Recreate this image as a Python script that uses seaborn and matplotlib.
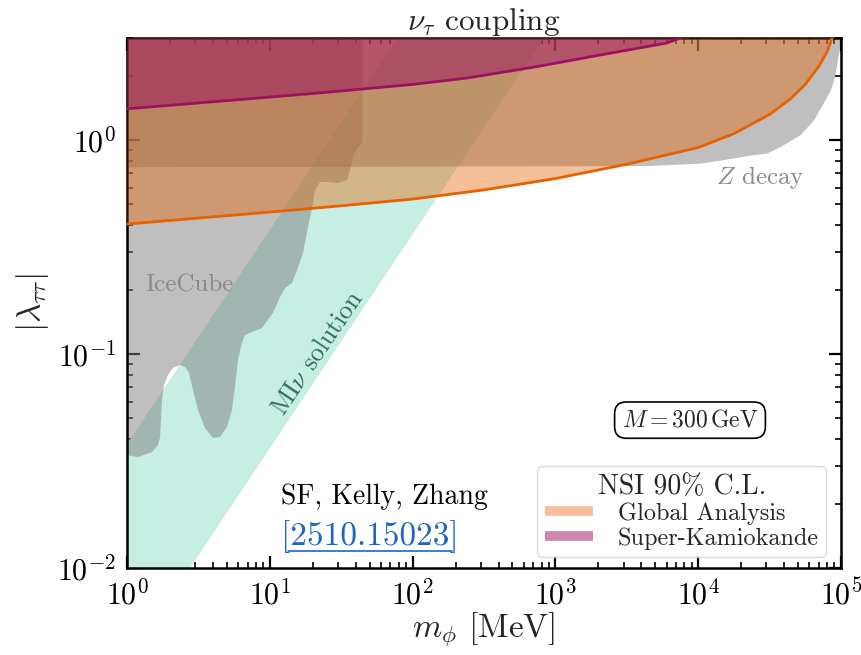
import matplotlib
matplotlib.use("Agg")
import matplotlib.pyplot as plt
import seaborn as sns
from matplotlib.lines import Line2D
from matplotlib.ticker import LogLocator, NullFormatter

# --- bounds on the tau-flavour coupling vs mediator mass ---------------------
# NSI global analysis (90% C.L.), lower edge of excluded region
m_global = [1, 3.16, 10, 31.6, 100, 316, 1000, 3162, 10000, 17800, 31600,
            44700, 56200, 70800, 79400, 87100]
lam_global = [0.405, 0.432, 0.461, 0.493, 0.530, 0.585, 0.661, 0.771, 0.923,
              1.072, 1.318, 1.567, 1.82, 2.239, 2.57, 3.02]

# NSI Super-Kamiokande (90% C.L.)
m_superk = [1, 4.5, 22, 100, 240, 700, 2000, 6000, 7500, 8500]
lam_superk = [1.40, 1.52, 1.66, 1.82, 1.95, 2.19, 2.49, 2.84, 3.0, 3.2]

# Z decay exclusion, lower edge
m_zdecay = [1, 4400, 10300, 17500, 23000, 30300, 39000, 51600, 64000, 75000,
            84000, 90000, 95000, 99000, 100000]
lam_zdecay = [0.75, 0.76, 0.78, 0.824, 0.85, 0.87, 0.947, 1.06, 1.24, 1.49,
              1.71, 1.97, 2.44, 2.84, 3.0]

# IceCube exclusion contour (excluded above / left of it)
m_icecube = [1.0, 1.194, 1.496, 1.648, 1.702, 1.730, 1.758, 1.815, 1.936, 2.10,
             2.35, 2.55, 2.72, 2.90, 3.14, 3.52, 4.00, 4.48, 5.01, 5.43, 5.70,
             5.99, 6.38, 6.70, 7.50, 8.82, 10.5, 11.8, 12.8, 14.3, 15.5, 17.1,
             18.5, 19.8, 20.7, 22.5, 26.4, 30.1, 34.8, 36.5, 38.3, 41.5, 44.2,
             44.7]
lam_icecube = [0.0337, 0.0330, 0.0348, 0.0376, 0.0405, 0.0492, 0.0610, 0.0716,
               0.0798, 0.0861, 0.0889, 0.0870, 0.0815, 0.0679, 0.0548, 0.0451,
               0.0405, 0.0409, 0.0456, 0.0547, 0.0701, 0.0938, 0.1125, 0.1227,
               0.1267, 0.1322, 0.1555, 0.1845, 0.2035, 0.2147, 0.247, 0.2965,
               0.392, 0.486, 0.584, 0.637, 0.637, 0.630, 0.650, 0.724, 0.833,
               0.927, 0.968, 0.975]

# MI-nu solution band
m_minu = [1, 1e5]
lam_minu_low = [0.00362, 362.0]
lam_minu_high = [0.038, 3800.0]

LAM_TOP = 3.0
M_RANGE = (1, 1e5)
LAM_RANGE = (1e-2, LAM_TOP)

# --- style --------------------------------------------------------------------
sns.set_theme(style="ticks")
plt.rcParams.update({
    "font.family": "serif",
    "font.serif": ["cmr10", "DejaVu Serif"],
    "mathtext.fontset": "cm",
    "axes.formatter.use_mathtext": True,
    "axes.unicode_minus": False,
    "axes.linewidth": 1.8,
    "axes.edgecolor": "black",
})

C_ORANGE = "#e66100"
C_PURPLE = "#9c1060"
C_GREEN = "#c6eee3"
C_GRAY = (0.5, 0.5, 0.5)

fig = plt.figure(figsize=(8.61, 6.55), dpi=100)
ax = fig.add_axes([0.1475, 0.1328, 0.8293, 0.8092])
ax.set_xscale("log")
ax.set_yscale("log")

# MI-nu band
ax.fill_between(m_minu, lam_minu_low, lam_minu_high, color=C_GREEN,
                lw=0, zorder=1)
# IceCube region
ax.fill(m_icecube + [m_icecube[-1], m_icecube[0]],
        lam_icecube + [LAM_TOP, LAM_TOP],
        color=C_GRAY, alpha=0.5, lw=0, zorder=2)
# Z decay region
ax.fill_between(m_zdecay, lam_zdecay, LAM_TOP, color=C_GRAY, alpha=0.5,
                lw=0, zorder=2)
# NSI bounds
ax.fill_between(m_global, lam_global, LAM_TOP, color=C_ORANGE, alpha=0.4,
                lw=0, zorder=3)
ax.fill_between(m_superk, lam_superk, LAM_TOP, color=C_PURPLE, alpha=0.5,
                lw=0, zorder=4)
sns.lineplot(x=m_global, y=lam_global, ax=ax, color=C_ORANGE, lw=2,
             sort=False, estimator=None, zorder=5)
sns.lineplot(x=m_superk, y=lam_superk, ax=ax, color=C_PURPLE, lw=2,
             sort=False, estimator=None, zorder=5)

ax.set_xlim(*M_RANGE)
ax.set_ylim(*LAM_RANGE)

# ticks
ax.xaxis.set_major_locator(LogLocator(base=10, numticks=10))
ax.xaxis.set_minor_locator(LogLocator(base=10, subs=range(2, 10), numticks=100))
ax.yaxis.set_major_locator(LogLocator(base=10, numticks=10))
ax.yaxis.set_minor_locator(LogLocator(base=10, subs=range(2, 10), numticks=100))
ax.xaxis.set_minor_formatter(NullFormatter())
ax.yaxis.set_minor_formatter(NullFormatter())
ax.tick_params(which="both", direction="in", top=True, right=True,
               colors="black", labelsize=21.5)
ax.tick_params(which="major", length=9, width=1.6, pad=8)
ax.tick_params(which="minor", length=4.5, width=1.2)

ax.set_xlabel(r"$m_\phi$ [MeV]", fontsize=24, labelpad=0)
ax.set_ylabel(r"$|\lambda_{\tau\tau}|$", fontsize=24, labelpad=4)
ax.set_title(r"$\nu_\tau$ coupling", fontsize=22.5, pad=4)

# annotations
ax.text(0.088, 0.534, "IceCube", transform=ax.transAxes, fontsize=18,
        color="#8a8a8a", ha="center", va="center", zorder=6)
ax.text(0.8866, 0.736, r"$Z$ decay", transform=ax.transAxes, fontsize=18,
        color="#8a8a8a", ha="center", va="center", zorder=6)
ax.text(0.2675, 0.405, r"MI$\nu$ solution", transform=ax.transAxes,
        fontsize=18.5, color="#2f6b5c", ha="center", va="center",
        rotation=56, rotation_mode="anchor", zorder=6)
ax.text(0.361, 0.134, "SF, Kelly, Zhang", transform=ax.transAxes,
        fontsize=20, color="black", ha="center", va="center", zorder=6)
ref = ax.text(0.340, 0.0585, "[2510.15023]", transform=ax.transAxes,
              fontsize=24, color="#1f66c2", ha="center", va="center", zorder=6)
ax.text(0.7885, 0.279, r"$M = 300\,\mathrm{GeV}$", transform=ax.transAxes,
        fontsize=17, ha="center", va="center", zorder=6,
        bbox=dict(boxstyle="round,pad=0.3,rounding_size=0.5", fc="white",
                  ec="black", lw=1.2))

handles = [Line2D([], [], color=C_ORANGE, alpha=0.4, lw=7,
                  solid_capstyle="butt"),
           Line2D([], [], color=C_PURPLE, alpha=0.5, lw=7,
                  solid_capstyle="butt")]
leg = ax.legend(handles, ["Global Analysis", "Super-Kamiokande"],
                title="NSI 90% C.L.", loc="lower right",
                bbox_to_anchor=(0.979, 0.0208), borderaxespad=0,
                fontsize=17.5, title_fontsize=20, handlelength=2.0,
                labelspacing=0.1, borderpad=0.3, handletextpad=1.0,
                frameon=True, fancybox=True, framealpha=0.8,
                edgecolor="#d0d0d0")
leg.set_zorder(7)

# underline for the reference tag
fig.canvas.draw()
bb = ref.get_window_extent().transformed(fig.transFigure.inverted())
fig.add_artist(Line2D([bb.x0 + 0.008, bb.x1 - 0.008],
                      [bb.y0 + 0.004, bb.y0 + 0.004],
                      color="#1f66c2", lw=1.2))

fig.savefig("out.png", dpi=100)
